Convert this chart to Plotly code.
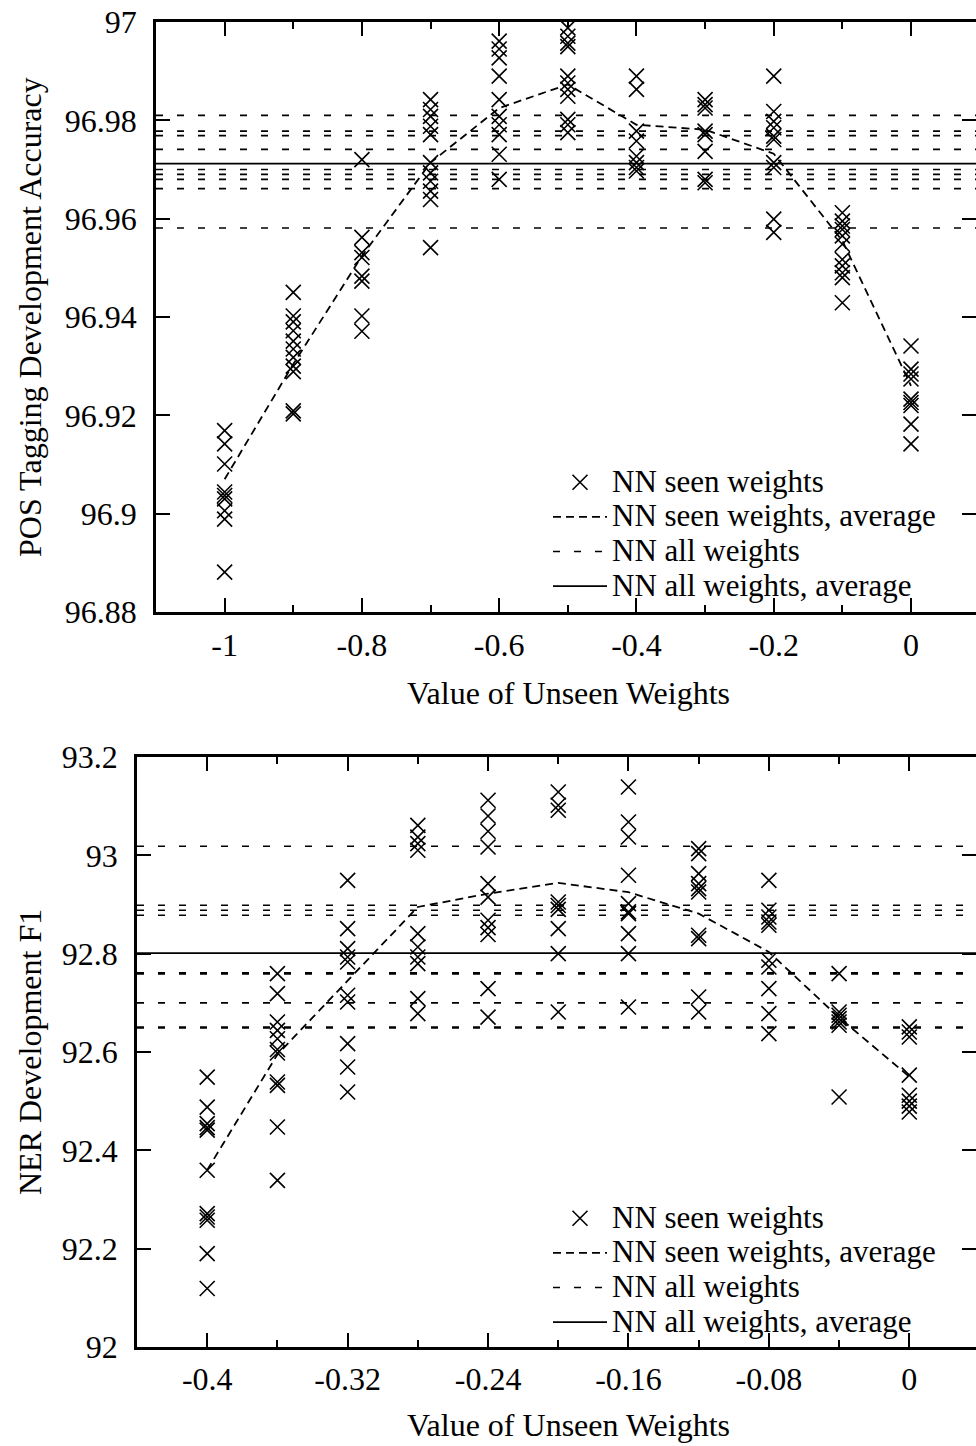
import plotly.graph_objects as go

W, H = 976, 1446
FONT = "Liberation Serif"

# ---------------- POS tagging (top panel) ----------------
POS_X = [-1.0, -0.9, -0.8, -0.7, -0.6, -0.5, -0.4, -0.3, -0.2, -0.1, 0.0]
POS_SEEN = [
    [96.9169, 96.9142, 96.9101, 96.9044, 96.9037, 96.9030, 96.9006, 96.8989, 96.8881],
    [96.9450, 96.9402, 96.9390, 96.9372, 96.9351, 96.9335, 96.9318, 96.9300, 96.9289, 96.9209, 96.9203],
    [96.9720, 96.9562, 96.9531, 96.9521, 96.9483, 96.9473, 96.9402, 96.9371],
    [96.9842, 96.9822, 96.9808, 96.9788, 96.9771, 96.9714, 96.9693, 96.9676, 96.9656, 96.9639, 96.9541],
    [96.9961, 96.9945, 96.9927, 96.9890, 96.9842, 96.9808, 96.9791, 96.9771, 96.9731, 96.9680],
    [96.9988, 96.9971, 96.9957, 96.9950, 96.9890, 96.9876, 96.9863, 96.9849, 96.9802, 96.9791, 96.9775],
    [96.9890, 96.9863, 96.9778, 96.9758, 96.9727, 96.9714, 96.9704, 96.9697],
    [96.9842, 96.9832, 96.9825, 96.9778, 96.9771, 96.9737, 96.9680, 96.9673],
    [96.9890, 96.9818, 96.9798, 96.9785, 96.9768, 96.9761, 96.9714, 96.9704, 96.9599, 96.9572],
    [96.9612, 96.9595, 96.9585, 96.9578, 96.9565, 96.9548, 96.9517, 96.9504, 96.9490, 96.9480, 96.9429],
    [96.9341, 96.9294, 96.9284, 96.9274, 96.9233, 96.9226, 96.9220, 96.9182, 96.9142],
]
POS_SEEN_AVG = [96.9070, 96.9304, 96.9524, 96.9714, 96.9825, 96.9873, 96.9791, 96.9781, 96.9732, 96.9555, 96.9260]
POS_ALL = [96.9810, 96.9778, 96.9769, 96.9741, 96.9700, 96.9690, 96.9680, 96.9661, 96.9581]
POS_ALL_AVG = 96.9712
POS_XRANGE = [-1.1, 0.0947]
POS_YRANGE = [96.88, 97.0]
POS_XTICKS = [-1.0, -0.8, -0.6, -0.4, -0.2, 0.0]
POS_XTICK_LABELS = ["-1", "-0.8", "-0.6", "-0.4", "-0.2", "0"]
POS_XMINOR = [-0.9, -0.7, -0.5, -0.3, -0.1]
POS_YTICKS = [96.88, 96.90, 96.92, 96.94, 96.96, 96.98, 97.0]
POS_YTICK_LABELS = ["96.88", "96.9", "96.92", "96.94", "96.96", "96.98", "97"]

# ---------------- NER (bottom panel) ----------------
NER_X = [-0.40, -0.36, -0.32, -0.28, -0.24, -0.20, -0.16, -0.12, -0.08, -0.04, 0.0]
NER_SEEN = [
    [92.549, 92.488, 92.4544, 92.4463, 92.441, 92.3595, 92.2714, 92.2645, 92.2578, 92.190, 92.1189],
    [92.7595, 92.7188, 92.661, 92.644, 92.627, 92.605, 92.598, 92.539, 92.532, 92.4475, 92.339],
    [92.9492, 92.851, 92.8103, 92.7933, 92.7831, 92.7154, 92.7017, 92.6171, 92.5695, 92.5187],
    [93.061, 93.037, 93.0239, 93.0103, 92.8408, 92.8136, 92.7933, 92.7798, 92.7087, 92.6781],
    [93.112, 93.080, 93.049, 93.017, 92.9425, 92.915, 92.868, 92.853, 92.839, 92.729, 92.671],
    [93.1288, 93.1018, 93.0916, 92.905, 92.898, 92.890, 92.851, 92.800, 92.6814],
    [93.139, 93.0678, 93.0373, 92.9594, 92.9018, 92.885, 92.8815, 92.8408, 92.800, 92.6916],
    [93.0137, 93.0035, 92.9629, 92.9425, 92.9323, 92.9255, 92.8374, 92.8307, 92.7119, 92.6814],
    [92.9492, 92.8882, 92.8746, 92.8644, 92.8577, 92.7865, 92.7729, 92.729, 92.6781, 92.6374],
    [92.7595, 92.6814, 92.6747, 92.668, 92.6611, 92.6543, 92.5085],
    [92.651, 92.6407, 92.6305, 92.553, 92.512, 92.500, 92.490, 92.478],
]
NER_SEEN_AVG = [92.360, 92.595, 92.745, 92.895, 92.922, 92.944, 92.925, 92.8815, 92.8034, 92.670, 92.550]
NER_ALL = [93.0184, 92.8984, 92.8882, 92.8780, 92.759, 92.761, 92.700, 92.649, 92.651]
NER_ALL_AVG = 92.801
NER_XRANGE = [-0.44, 0.038]
NER_YRANGE = [92.0, 93.2]
NER_XTICKS = [-0.40, -0.32, -0.24, -0.16, -0.08, 0.0]
NER_XTICK_LABELS = ["-0.4", "-0.32", "-0.24", "-0.16", "-0.08", "0"]
NER_XMINOR = [-0.36, -0.28, -0.20, -0.12, -0.04]
NER_YTICKS = [92.0, 92.2, 92.4, 92.6, 92.8, 93.0, 93.2]
NER_YTICK_LABELS = ["92", "92.2", "92.4", "92.6", "92.8", "93", "93.2"]

LEGEND_NAMES = ["NN seen weights", "NN seen weights, average", "NN all weights", "NN all weights, average"]
X_TITLE = "Value of Unseen Weights"
POS_Y_TITLE = "POS Tagging Development Accuracy"
NER_Y_TITLE = "NER Development F1"

# ---------------- figure ----------------
fig = go.Figure()


def big(name):
    return '<span style="font-size:31px">' + name + "</span>"


def add_panel(xs, seen, seen_avg, all_w, all_avg, xrange_, xa, ya, legend):
    px, py = [], []
    for x, col in zip(xs, seen):
        for v in col:
            px.append(x)
            py.append(v)
    fig.add_trace(go.Scatter(
        x=px, y=py, mode="markers", name=big(LEGEND_NAMES[0]),
        marker=dict(symbol="x-thin", size=15, color="black", line=dict(width=1.6, color="black")),
        xaxis=xa, yaxis=ya, legend=legend, cliponaxis=False,
    ))
    fig.add_trace(go.Scatter(
        x=xs, y=seen_avg, mode="lines", name=big(LEGEND_NAMES[1]),
        line=dict(color="black", width=1.8, dash="8px,5px"),
        xaxis=xa, yaxis=ya, legend=legend,
    ))
    lx, ly = [], []
    for v in all_w:
        lx += [xrange_[0], xrange_[1], None]
        ly += [v, v, None]
    fig.add_trace(go.Scatter(
        x=lx, y=ly, mode="lines", name=big(LEGEND_NAMES[2]),
        line=dict(color="black", width=1.6, dash="7px,14px"),
        xaxis=xa, yaxis=ya, legend=legend, connectgaps=False,
    ))
    fig.add_trace(go.Scatter(
        x=[xrange_[0], xrange_[1]], y=[all_avg, all_avg], mode="lines", name=big(LEGEND_NAMES[3]),
        line=dict(color="black", width=1.8),
        xaxis=xa, yaxis=ya, legend=legend,
    ))


add_panel(POS_X, POS_SEEN, POS_SEEN_AVG, POS_ALL, POS_ALL_AVG, POS_XRANGE, "x", "y", "legend")
add_panel(NER_X, NER_SEEN, NER_SEEN_AVG, NER_ALL, NER_ALL_AVG, NER_XRANGE, "x2", "y2", "legend2")

# hidden traces so right-hand tick-only axes exist
fig.add_trace(go.Scatter(x=[], y=[], xaxis="x", yaxis="y3", showlegend=False, hoverinfo="skip"))
fig.add_trace(go.Scatter(x=[], y=[], xaxis="x2", yaxis="y4", showlegend=False, hoverinfo="skip"))


def px_dom(a, b, total):
    return [a / total, b / total]


def py_dom(top, bottom):
    return [1 - bottom / H, 1 - top / H]


tickfont = dict(family=FONT, size=32, color="black")
common = dict(showgrid=False, zeroline=False, showline=True, linecolor="black", linewidth=2.6,
              ticks="inside", tickcolor="black", tickwidth=2, tickfont=tickfont)

TOP_DOM_X = px_dom(156, W, W)
BOT_DOM_X = px_dom(137, W, W)
TOP_DOM_Y = py_dom(22, 612)
BOT_DOM_Y = py_dom(757, 1347)

LEG_FONT = 24.3

fig.update_layout(
    width=W, height=H,
    margin=dict(l=0, r=0, t=0, b=0, autoexpand=False),
    paper_bgcolor="white", plot_bgcolor="white",
    font=dict(family=FONT, size=32, color="black"),
    xaxis=dict(**common, domain=TOP_DOM_X, anchor="y", range=POS_XRANGE,
               tickvals=POS_XTICKS, ticktext=POS_XTICK_LABELS, ticklen=14, mirror="ticks",
               minor=dict(tickvals=POS_XMINOR, ticks="inside", ticklen=7, tickwidth=2, tickcolor="black", showgrid=False),
               ticklabelstandoff=3),
    yaxis=dict(**common, domain=TOP_DOM_Y, anchor="x", range=POS_YRANGE,
               tickvals=POS_YTICKS, ticktext=POS_YTICK_LABELS, ticklen=14, ticklabelstandoff=10),
    yaxis3=dict(overlaying="y", anchor="x", side="right", range=POS_YRANGE, tickvals=POS_YTICKS,
                ticks="inside", ticklen=14, tickwidth=2, tickcolor="black", showticklabels=False,
                showline=False, showgrid=False, zeroline=False),
    xaxis2=dict(**common, domain=BOT_DOM_X, anchor="y2", range=NER_XRANGE,
                tickvals=NER_XTICKS, ticktext=NER_XTICK_LABELS, ticklen=14, mirror="ticks",
                minor=dict(tickvals=NER_XMINOR, ticks="inside", ticklen=7, tickwidth=2, tickcolor="black", showgrid=False),
                ticklabelstandoff=2),
    yaxis2=dict(**common, domain=BOT_DOM_Y, anchor="x2", range=NER_YRANGE,
                tickvals=NER_YTICKS, ticktext=NER_YTICK_LABELS, ticklen=14, ticklabelstandoff=10),
    yaxis4=dict(overlaying="y2", anchor="x2", side="right", range=NER_YRANGE, tickvals=NER_YTICKS,
                ticks="inside", ticklen=14, tickwidth=2, tickcolor="black", showticklabels=False,
                showline=False, showgrid=False, zeroline=False),
    legend=dict(x=548 / W, y=1 - 460 / H, xanchor="left", yanchor="top",
                bgcolor="rgba(0,0,0,0)", borderwidth=0, itemwidth=54,
                font=dict(family=FONT, size=LEG_FONT, color="black"), tracegroupgap=0),
    legend2=dict(x=548 / W, y=1 - 1196 / H, xanchor="left", yanchor="top",
                 bgcolor="rgba(0,0,0,0)", borderwidth=0, itemwidth=54,
                 font=dict(family=FONT, size=LEG_FONT, color="black"), tracegroupgap=0),
    showlegend=True,
)

titles = [
    dict(text=X_TITLE, x=568 / W, y=1 - 693 / H, textangle=0),
    dict(text=X_TITLE, x=568 / W, y=1 - 1425 / H, textangle=0),
    dict(text=POS_Y_TITLE, x=30 / W, y=1 - 317 / H, textangle=-90),
    dict(text=NER_Y_TITLE, x=30 / W, y=1 - 1052 / H, textangle=-90),
]
for t in titles:
    fig.add_annotation(xref="paper", yref="paper", showarrow=False, xanchor="center", yanchor="middle",
                       font=dict(family=FONT, size=32, color="black"), **t)

fig.write_html("out.html", config={"displayModeBar": False},
               post_script="document.body.style.margin='0';document.body.style.overflow='hidden';")
